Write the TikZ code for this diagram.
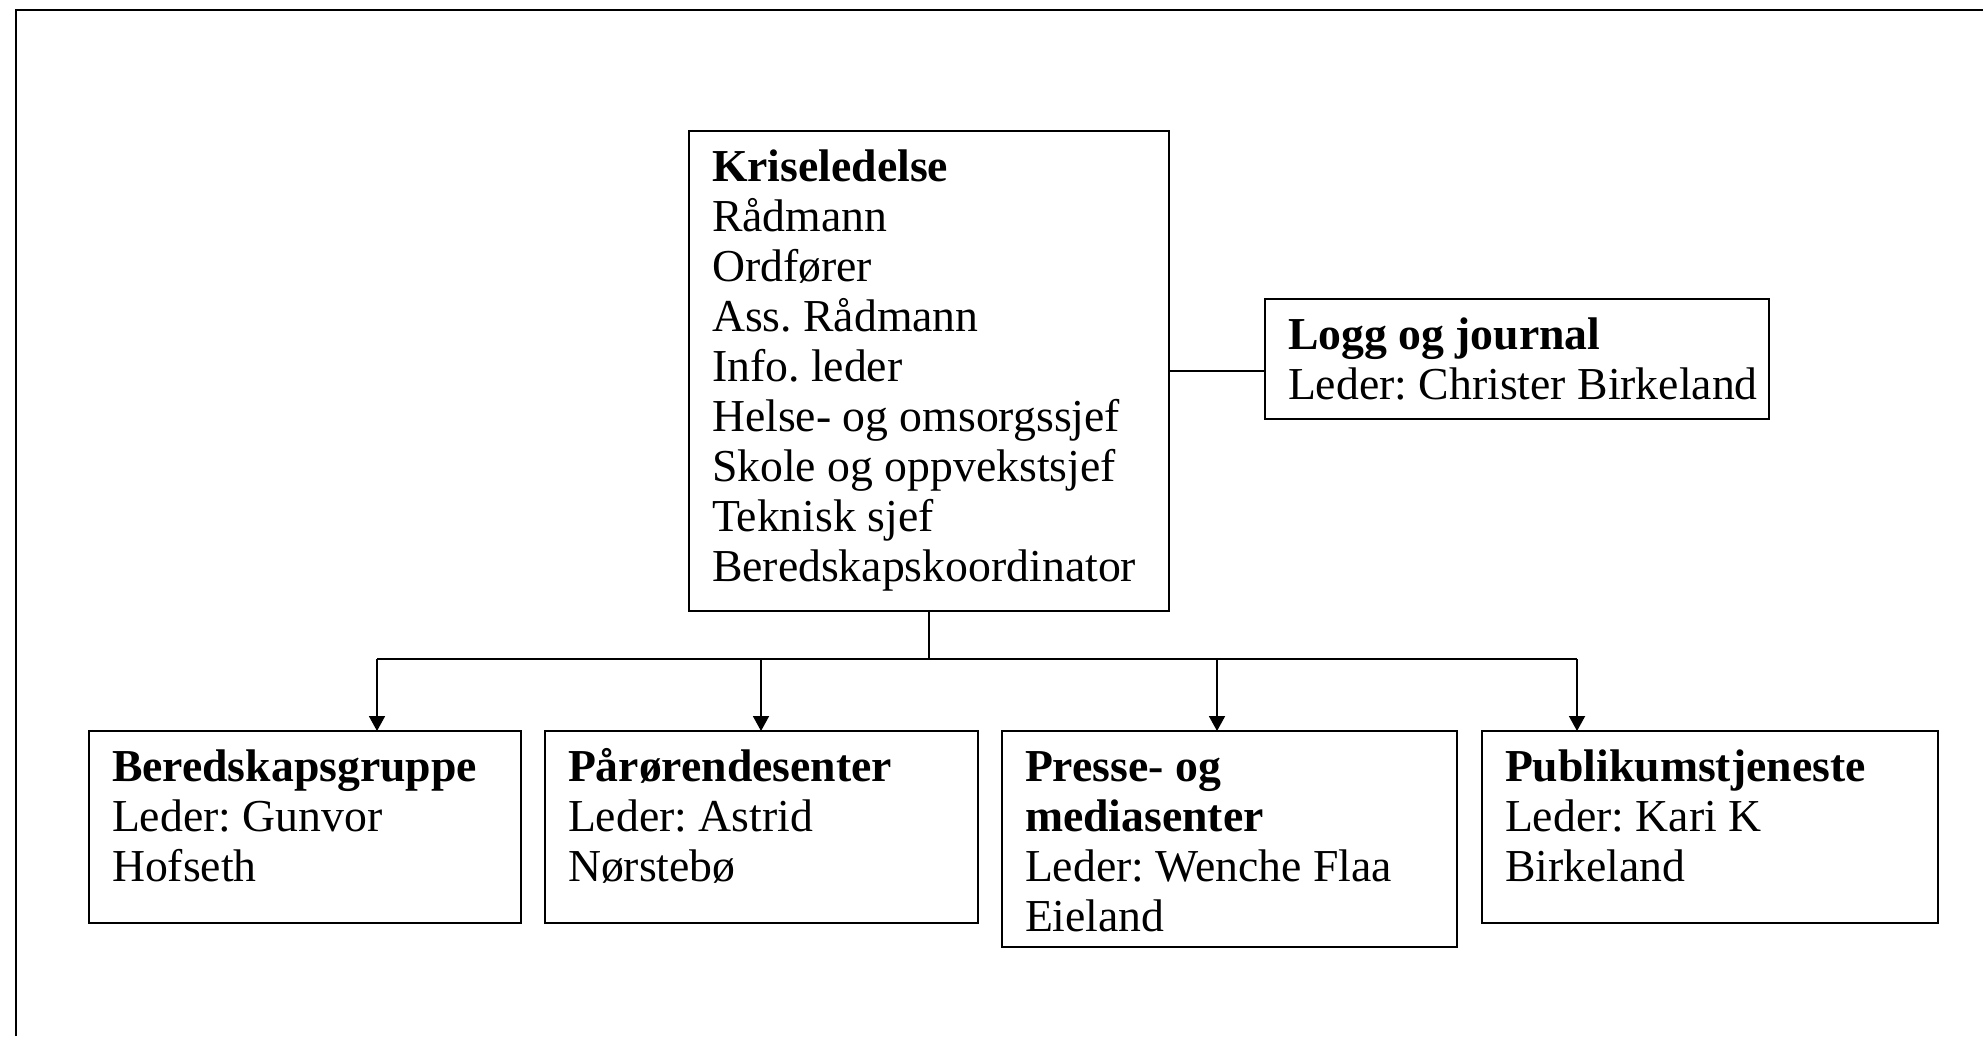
\documentclass[tikz,border=0pt]{standalone}
\usepackage{fontspec}
\setmainfont{Liberation Serif}
\usetikzlibrary{arrows.meta}
\newcommand\boxlines[1]{\begin{minipage}[t]{6cm}\raggedright\frenchspacing #1\end{minipage}}
\begin{document}
\begin{tikzpicture}[x=0.01cm,y=-0.01cm,
  boxframe/.style={draw, line width=0.6pt, inner sep=0pt, outer sep=0pt, anchor=north west},
  boxtext/.style={anchor=base west, inner sep=0pt, outer sep=0pt, xshift=0.23cm, yshift=-0.505cm,
    font=\fontsize{13}{14.23}\selectfont},
  link/.style={line width=0.5pt},
  arrowlink/.style={link, -{Triangle[length=0.15cm,width=0.16cm]}}]
\useasboundingbox (0,0) rectangle (1983,1036);
% page frame (top and left edges only)
\draw[line width=0.7pt] (16,1036) -- (16,10) -- (1983,10);

% boxes
\node[boxframe, minimum width=4.80cm, minimum height=4.80cm] (krise) at (689,131) {};
\node[boxframe, minimum width=5.04cm, minimum height=1.20cm] (logg) at (1265,299) {};
\node[boxframe, minimum width=4.32cm, minimum height=1.92cm] (b1) at (89,731) {};
\node[boxframe, minimum width=4.33cm, minimum height=1.92cm] (b2) at (545,731) {};
\node[boxframe, minimum width=4.55cm, minimum height=2.16cm] (b3) at (1002,731) {};
\node[boxframe, minimum width=4.56cm, minimum height=1.92cm] (b4) at (1482,731) {};

% texts
\node[boxtext] (kriset) at (krise.north west) {\boxlines{\textbf{Kriseledelse}\\Rådmann\\Ordfører\\Ass. Rådmann\\Info. leder\\Helse- og omsorgssjef\\Skole og oppvekstsjef\\Teknisk sjef\\Beredskapskoordinator}};
\node[boxtext] (loggt) at (logg.north west) {\boxlines{\textbf{Logg og journal}\\Leder: Christer Birkeland}};
\node[boxtext] (b1t) at (b1.north west) {\boxlines{\textbf{Beredskapsgruppe}\\Leder: Gunvor\\Hofseth}};
\node[boxtext] (b2t) at (b2.north west) {\boxlines{\textbf{Pårørendesenter}\\Leder: Astrid\\Nørstebø}};
\node[boxtext] (b3t) at (b3.north west) {\boxlines{\textbf{Presse- og}\\\textbf{mediasenter}\\Leder: Wenche Flaa\\Eieland}};
\node[boxtext] (b4t) at (b4.north west) {\boxlines{\textbf{Publikumstjeneste}\\Leder: Kari K\\Birkeland}};

% connectors
\draw[link] (krise.east) -- (krise.east -| logg.west);
\coordinate (a1) at (377,659);
\coordinate (a2) at (761,659);
\coordinate (a3) at (1217,659);
\coordinate (a4) at (1577,659);
\draw[link] (krise.south) -- (krise.south |- a1);
\draw[link] (a1) -- (a4);
\draw[arrowlink] (a1) -- (a1 |- b1.north);
\draw[arrowlink] (a2) -- (a2 |- b2.north);
\draw[arrowlink] (a3) -- (a3 |- b3.north);
\draw[arrowlink] (a4) -- (a4 |- b4.north);
\end{tikzpicture}
\end{document}
